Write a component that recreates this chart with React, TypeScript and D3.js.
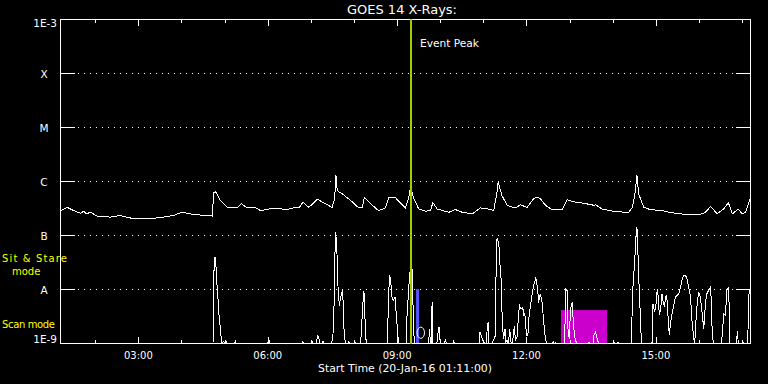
import React from "react";
import * as d3 from "d3";

// Time in decimal UT hours (20-Jan-2016), flux as log10(W/m^2)
const START = 1 + 11 / 60;
const END = 17 + 11 / 60;

const majorHours = [3, 6, 9, 12, 15];
const majorLabels = ["03:00", "06:00", "09:00", "12:00", "15:00"];
const minorHours = [2, 4, 5, 7, 8, 10, 11, 13, 14, 16, 17];

const levelExps = [-3, -4, -5, -6, -7, -8, -9];
const levelLabels = ["1E-3", "X", "M", "C", "B", "A", "1E-9"];
const gridExps = [-4, -5, -6, -7, -8];

const eventPeak = 9.3;
const blueBar = [9.44, 9.51, -8];
const scanBox = [12.8, 13.87, -8.39];
const oMarker = [9.55, -8.81];

const longChannel: [number, number][] = [
  [1.18,-6.54],[1.34,-6.48],[1.49,-6.54],[1.65,-6.59],[1.72,-6.55],[1.78,-6.6],[1.88,-6.57],[2.03,-6.64],[2.34,-6.66],[2.57,-6.63],
  [2.88,-6.69],[3.19,-6.69],[3.5,-6.67],[3.8,-6.63],[4.0,-6.57],[4.27,-6.61],[4.7,-6.64],[4.74,-6.2],[4.78,-6.19],
  [4.89,-6.35],[5.05,-6.48],[5.28,-6.49],[5.38,-6.41],[5.51,-6.49],[5.7,-6.48],[5.82,-6.54],[6.13,-6.49],[6.44,-6.52],
  [6.63,-6.48],[6.71,-6.49],[6.81,-6.38],[6.94,-6.48],[7.14,-6.33],[7.37,-6.43],[7.48,-6.48],[7.54,-6.32],[7.57,-5.88],
  [7.6,-6.17],[7.72,-6.23],[7.91,-6.35],[8.1,-6.49],[8.18,-6.48],[8.23,-6.3],[8.37,-6.41],[8.56,-6.54],[8.72,-6.49],
  [8.8,-6.29],[8.95,-6.3],[9.18,-6.49],[9.26,-6.29],[9.3,-6.11],[9.38,-6.32],[9.49,-6.51],[9.65,-6.55],[9.76,-6.54],
  [9.82,-6.39],[9.92,-6.51],[10.19,-6.57],[10.34,-6.52],[10.5,-6.57],[10.73,-6.6],[10.92,-6.49],[11.11,-6.51],
  [11.23,-6.54],[11.31,-6.17],[11.33,-6.01],[11.42,-6.26],[11.54,-6.44],[11.73,-6.49],[11.85,-6.43],[12.0,-6.48],
  [12.16,-6.31],[12.24,-6.29],[12.31,-6.32],[12.43,-6.44],[12.58,-6.52],[12.82,-6.51],[12.93,-6.34],[13.12,-6.38],
  [13.36,-6.41],[13.55,-6.44],[13.59,-6.43],[13.74,-6.51],[14.05,-6.56],[14.36,-6.57],[14.44,-6.48],[14.5,-6.26],
  [14.55,-5.88],[14.59,-6.23],[14.71,-6.48],[14.86,-6.52],[15.13,-6.54],[15.37,-6.58],[15.68,-6.61],[15.98,-6.62],
  [16.14,-6.57],[16.26,-6.46],[16.41,-6.6],[16.56,-6.51],[16.67,-6.39],[16.76,-6.6],[16.9,-6.51],[16.99,-6.6],
  [17.07,-6.57],[17.17,-6.32]
];

const shortChannel: [number, number][] = [
  [1.18,-9.5],[4.72,-9.5],[4.73,-8.11],[4.75,-7.4],[4.78,-7.42],[4.8,-7.77],[4.82,-7.99],[4.86,-8.48],[4.89,-8.73],[4.92,-9.5],
  [4.97,-8.96],[4.99,-9.5],[5.02,-8.96],[5.04,-9.5],
  [5.22,-9.5],[5.24,-8.96],[5.26,-9.5],
  [5.99,-9.5],[6.01,-8.89],[6.03,-9.5],
  [6.78,-9.5],[6.8,-8.96],[6.82,-9.5],
  [7.0,-9.5],[7.02,-8.96],[7.04,-9.5],
  [7.12,-9.5],[7.14,-8.85],[7.17,-8.88],[7.2,-9.5],
  [7.25,-9.5],[7.27,-8.96],[7.29,-9.5],
  [7.47,-9.5],[7.5,-8.85],[7.52,-8.57],[7.54,-7.62],[7.56,-6.94],[7.58,-7.09],[7.6,-7.43],[7.62,-7.99],[7.65,-8.3],[7.68,-8.14],[7.72,-8.02],[7.74,-8.26],[7.75,-8.67],[7.77,-8.85],[7.79,-9.5],
  [7.85,-9.5],[7.87,-8.96],[7.89,-9.5],
  [7.99,-9.5],[8.01,-8.96],[8.03,-9.5],
  [8.14,-9.5],[8.16,-8.79],[8.19,-8.3],[8.22,-8.02],[8.23,-8.42],[8.26,-8.67],[8.27,-9.5],
  [8.74,-9.5],[8.76,-8.98],[8.78,-8.48],[8.81,-7.74],[8.84,-7.8],[8.86,-8.11],[8.9,-8.2],[8.94,-8.14],[8.96,-8.36],[8.99,-8.67],[9.01,-8.88],[9.03,-9.5],
  [9.2,-9.5],[9.22,-8.45],[9.26,-7.96],[9.28,-7.71],[9.3,-7.74],[9.32,-7.4],[9.35,-7.86],[9.36,-8.42],[9.38,-8.85],[9.4,-9.5],
  [9.72,-9.5],[9.74,-8.73],[9.76,-9.5],[9.78,-9.5],[9.8,-8.24],[9.82,-9.5],
  [9.91,-9.5],[9.93,-8.85],[9.96,-8.7],[9.98,-8.91],[10.0,-9.5],
  [10.09,-9.5],[10.11,-8.91],[10.13,-9.5],
  [10.28,-9.5],[10.3,-8.96],[10.32,-9.5],
  [10.89,-9.5],[10.91,-8.79],[10.96,-8.91],[11.0,-8.98],[11.02,-9.5],[11.06,-9.5],[11.08,-8.67],[11.1,-8.61],[11.12,-9.5],
  [11.2,-9.5],[11.22,-8.94],[11.27,-8.85],[11.29,-7.09],[11.32,-7.06],[11.35,-7.19],[11.37,-7.49],[11.4,-7.8],[11.43,-8.67],[11.46,-8.91],[11.49,-8.73],[11.51,-8.98],[11.54,-8.94],[11.57,-9.5],[11.6,-8.73],[11.63,-8.98],[11.66,-9.5],[11.71,-8.67],[11.73,-8.94],[11.77,-8.88],[11.81,-8.42],[11.83,-8.3],[11.86,-8.36],[11.9,-8.33],[11.93,-8.48],[11.95,-8.45],[11.99,-8.85],[12.02,-8.85],[12.05,-8.48],[12.08,-8.3],[12.12,-8.08],[12.16,-7.91],[12.2,-7.8],[12.22,-7.83],[12.25,-8.02],[12.27,-8.24],[12.31,-8.08],[12.35,-8.24],[12.39,-8.61],[12.43,-8.94],[12.47,-9.5],
  [12.59,-9.5],[12.61,-8.96],[12.63,-9.5],[12.66,-8.98],[12.69,-9.5],
  [12.86,-9.5],[12.88,-8.73],[12.9,-7.99],[12.93,-8.02],[12.95,-8.73],[12.98,-8.91],[13.01,-8.36],[13.05,-8.24],[13.07,-8.54],[13.1,-8.85],[13.15,-9.5],
  [13.41,-9.5],[13.43,-8.98],[13.46,-9.5],[13.53,-9.5],[13.55,-8.85],[13.59,-8.79],[13.63,-8.91],[13.66,-9.5],
  [13.99,-9.5],[14.01,-8.96],[14.03,-9.5],[14.09,-9.5],[14.11,-8.98],[14.14,-9.5],
  [14.42,-9.5],[14.45,-8.05],[14.48,-7.68],[14.51,-7.31],[14.53,-7.0],[14.55,-6.85],[14.57,-7.25],[14.59,-7.74],[14.62,-8.3],[14.63,-8.61],[14.66,-9.5],
  [14.88,-9.5],[14.9,-8.98],[14.92,-8.26],[14.96,-8.42],[14.99,-8.3],[15.02,-7.99],[15.04,-8.11],[15.07,-8.48],[15.1,-8.36],[15.13,-8.08],[15.16,-8.24],[15.19,-8.33],[15.21,-8.14],[15.24,-8.11],[15.27,-8.48],[15.3,-8.85],[15.33,-8.61],[15.37,-8.42],[15.41,-8.26],[15.44,-8.14],[15.48,-8.11],[15.52,-8.08],[15.56,-7.96],[15.6,-7.8],[15.64,-7.74],[15.68,-7.74],[15.72,-7.83],[15.75,-7.96],[15.79,-8.11],[15.83,-8.61],[15.87,-8.91],[15.89,-9.5],[15.91,-8.67],[15.95,-8.24],[15.98,-8.05],[16.02,-8.14],[16.06,-8.42],[16.1,-8.73],[16.14,-8.24],[16.18,-8.05],[16.22,-8.02],[16.26,-7.93],[16.29,-8.67],[16.32,-9.5],
  [16.5,-9.5],[16.53,-8.85],[16.56,-8.45],[16.6,-8.48],[16.64,-7.99],[16.68,-7.96],[16.7,-9.5],
  [16.86,-9.5],[16.88,-8.76],[16.9,-9.5],[16.98,-9.5],[17.0,-8.96],[17.02,-9.5],
  [17.12,-9.5],[17.14,-8.11],[17.18,-7.96]
];

const FONT = "DejaVu Sans";

export default function App() {
  const x = d3.scaleLinear().domain([START, END]).range([60, 750]);
  const y = d3.scaleLinear().domain([-9, -3]).range([343, 19]).clamp(true);
  const line = d3
    .line<[number, number]>()
    .x((d) => x(d[0]))
    .y((d) => y(d[1]));

  const [left, right] = x.range();
  const top = y(-3);
  const bottom = y(-9);

  return (
    <svg
      width={768}
      height={384}
      style={{ position: "absolute", left: 0, top: 0, background: "#000" }}
      fontFamily={FONT}
    >
      <rect x={0} y={0} width={768} height={384} fill="#000" />

      {/* status rectangles */}
      <rect
        x={x(scanBox[0])}
        y={y(scanBox[2])}
        width={x(scanBox[1]) - x(scanBox[0])}
        height={bottom - y(scanBox[2])}
        fill="#cc00cc"
      />
      <rect
        x={x(blueBar[0])}
        y={y(blueBar[2])}
        width={x(blueBar[1]) - x(blueBar[0])}
        height={bottom - y(blueBar[2])}
        fill="#5555ff"
      />

      {/* grid */}
      {gridExps.map((e) => (
        <line
          key={"g" + e}
          x1={78}
          x2={734}
          y1={y(e) + 0.5}
          y2={y(e) + 0.5}
          stroke="#fff"
          strokeDasharray="1 5"
          shapeRendering="crispEdges"
        />
      ))}

      {/* curves */}
      <g transform="translate(0.5,0.5)" fill="none" stroke="#fff" strokeWidth={1} shapeRendering="crispEdges">
        <path d={line(longChannel) || ""} />
        <path d={line(shortChannel) || ""} />
      </g>

      <ellipse
        cx={x(oMarker[0])}
        cy={y(oMarker[1])}
        rx={3.7}
        ry={5.6}
        fill="none"
        stroke="#fff"
        strokeWidth={1}
      />

      {/* frame */}
      <g stroke="#fff" strokeWidth={1} shapeRendering="crispEdges">
        <rect x={left + 0.5} y={top + 0.5} width={right - left} height={bottom - top} fill="none" />
        {gridExps.map((e) => (
          <g key={"t" + e}>
            <line x1={left} x2={left + 15} y1={y(e) + 0.5} y2={y(e) + 0.5} />
            <line x1={right - 14} x2={right} y1={y(e) + 0.5} y2={y(e) + 0.5} />
          </g>
        ))}
        {majorHours.map((h) => (
          <g key={"M" + h}>
            <line x1={Math.round(x(h)) + 0.5} x2={Math.round(x(h)) + 0.5} y1={top} y2={top + 7} />
            <line x1={Math.round(x(h)) + 0.5} x2={Math.round(x(h)) + 0.5} y1={bottom + 1} y2={bottom - 6} />
          </g>
        ))}
        {minorHours.map((h) => (
          <g key={"m" + h}>
            <line x1={Math.round(x(h)) + 0.5} x2={Math.round(x(h)) + 0.5} y1={top} y2={top + 4} />
            <line x1={Math.round(x(h)) + 0.5} x2={Math.round(x(h)) + 0.5} y1={bottom + 1} y2={bottom - 3} />
          </g>
        ))}
      </g>

      {/* event peak */}
      <rect x={Math.round(x(eventPeak))} y={top} width={2} height={bottom - top + 1} fill="#a0d000" />
      <text x={x(eventPeak) + 10} y={47} fill="#fff" fontSize={10.5} textLength={59} lengthAdjust="spacingAndGlyphs">
        Event Peak
      </text>

      {/* title */}
      <text x={402} y={14} fill="#fff" fontSize={12} textAnchor="middle" textLength={110} lengthAdjust="spacingAndGlyphs">
        GOES 14 X-Rays:
      </text>

      {/* y labels */}
      {levelExps.map((e, i) => {
        const lab = levelLabels[i];
        const isEnd = i === 0 || i === levelExps.length - 1;
        const by = i === 0 ? y(e) + 8 : i === levelExps.length - 1 ? y(e) : y(e) + 5;
        return (
          <text
            key={"l" + e}
            x={isEnd ? 57 : 44}
            y={by}
            fill="#fff"
            fontSize={10.5}
            textAnchor={isEnd ? "end" : "middle"}
          >
            {lab}
          </text>
        );
      })}

      {/* x labels */}
      {majorHours.map((h, i) => (
        <text key={"xl" + h} x={x(h)} y={359} fill="#fff" fontSize={10} textAnchor="middle">
          {majorLabels[i]}
        </text>
      ))}
      <text x={405} y={372} fill="#fff" fontSize={10.5} textAnchor="middle" textLength={174} lengthAdjust="spacingAndGlyphs">
        Start Time (20-Jan-16 01:11:00)
      </text>

      {/* mode labels */}
      <text x={2} y={262} fill="#ffff00" fontSize={10} textLength={65} lengthAdjust="spacing">
        Sit &amp; Stare
      </text>
      <text x={12} y={275} fill="#ffff00" fontSize={10}>
        mode
      </text>
      <text x={2} y={328} fill="#ffff00" fontSize={10} textLength={53} lengthAdjust="spacing">
        Scan mode
      </text>
    </svg>
  );
}
